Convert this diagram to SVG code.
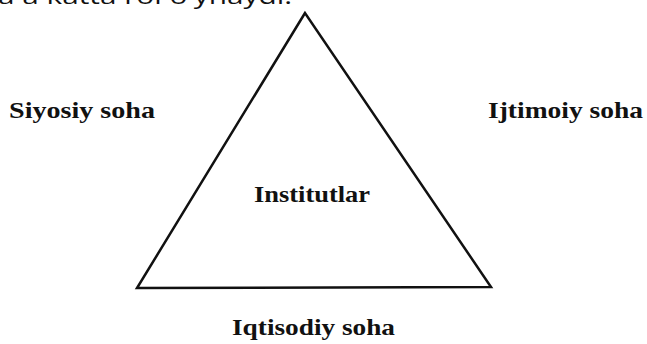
<svg xmlns="http://www.w3.org/2000/svg" width="647" height="344" viewBox="0 0 647 344">
<style>
.lbl{font-family:"Liberation Serif","Times New Roman",serif;font-weight:bold;font-size:24px;fill:#111}
.top{font-family:"Open Sans","Noto Sans",sans-serif;font-size:21px;fill:#111}
</style>
<rect width="647" height="344" fill="#fff"/>
<text class="top" x="-2" y="4" textLength="294" lengthAdjust="spacingAndGlyphs">a a katta rol o'ynaydi.</text>
<g id="connectors">
<polygon id="triangle" points="305,13 137,288 491,287" fill="none" stroke="#111" stroke-width="2.5" stroke-linejoin="miter"/>
</g>
<g id="siyosiy"><text class="lbl" x="9" y="118" textLength="146" lengthAdjust="spacingAndGlyphs">Siyosiy soha</text></g>
<g id="ijtimoiy"><text class="lbl" x="488" y="118" textLength="155" lengthAdjust="spacingAndGlyphs">Ijtimoiy soha</text></g>
<g id="institutlar"><text class="lbl" x="254" y="202" textLength="116" lengthAdjust="spacingAndGlyphs">Institutlar</text></g>
<g id="iqtisodiy"><text class="lbl" x="232" y="335" textLength="163" lengthAdjust="spacingAndGlyphs">Iqtisodiy soha</text></g>
</svg>
